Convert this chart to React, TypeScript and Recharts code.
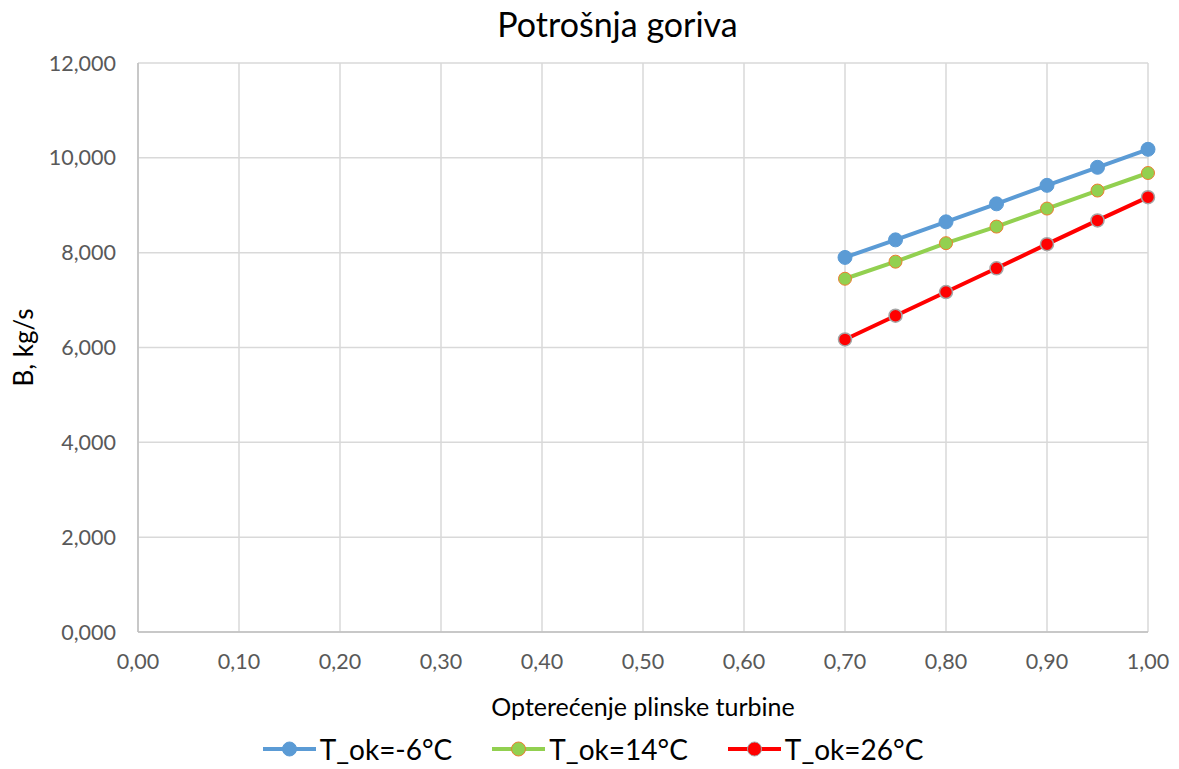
import { LineChart, Line, XAxis, YAxis, CartesianGrid, Legend } from 'recharts'

// opterećenje (x) and B, kg/s per ambient temperature
const loads = [0.7, 0.75, 0.8, 0.85, 0.9, 0.95, 1.0]
const bMinus6 = [7.9, 8.27, 8.65, 9.03, 9.42, 9.8, 10.18]
const b14 = [7.45, 7.81, 8.2, 8.55, 8.93, 9.31, 9.68]
const b26 = [6.17, 6.67, 7.17, 7.67, 8.18, 8.68, 9.17]

const xTicks = [0, 0.1, 0.2, 0.3, 0.4, 0.5, 0.6, 0.7, 0.8, 0.9, 1.0]
const yTicks = [0, 2, 4, 6, 8, 10, 12]

const seriesNames = ['T_ok=-6°C', 'T_ok=14°C', 'T_ok=26°C']

const data = loads.map((x, i) => ({
  x,
  s1: bMinus6[i],
  s2: b14[i],
  s3: b26[i],
}))

const FONT = 'Lato, "Open Sans", sans-serif'
const tickStyle = { fontSize: 21.5, fill: '#595959', fontFamily: FONT }

const legendItems = [
  { name: seriesNames[0], line: '#5B9BD5', fill: '#5B9BD5', stroke: '#5B9BD5' },
  { name: seriesNames[1], line: '#92D050', fill: '#92D050', stroke: '#ED7D31' },
  { name: seriesNames[2], line: '#FF0000', fill: '#FF0000', stroke: '#A5A5A5' },
]

function LegendContent() {
  return (
    <div style={{ display: 'flex', justifyContent: 'center', alignItems: 'center', gap: 40, paddingLeft: 38, fontFamily: FONT, fontSize: 28, color: '#000', lineHeight: '32px' }}>
      {legendItems.map((it) => (
        <div key={it.name} style={{ display: 'flex', alignItems: 'center' }}>
          <svg width={53} height={20} style={{ marginRight: 4 }}>
            <line x1={0} y1={10} x2={53} y2={10} stroke={it.line} strokeWidth={4} />
            <circle cx={26.5} cy={10} r={7} fill={it.fill} stroke={it.stroke} strokeWidth={1} />
          </svg>
          <span>{it.name}</span>
        </div>
      ))}
    </div>
  )
}

export default function App() {
  return (
    <div style={{ position: 'absolute', left: 0, top: 0, width: 1179, height: 769, background: '#fff' }}>
      <div style={{ position: 'absolute', top: 3, left: 28, width: 1179, textAlign: 'center', fontFamily: FONT, fontSize: 34, color: '#000', lineHeight: 'normal' }}>
        Potrošnja goriva
      </div>
      <LineChart width={1179} height={769} data={data} margin={{ top: 63, right: 31, left: 0, bottom: 0 }}>
        <CartesianGrid stroke="#D9D9D9" strokeWidth={1.5} />
        <XAxis
          dataKey="x"
          type="number"
          domain={[0, 1]}
          ticks={xTicks}
          tickFormatter={(v: number) => v.toFixed(2).replace('.', ',')}
          tick={tickStyle}
          tickLine={false}
          tickSize={0}
          tickMargin={22}
          stroke="#BFBFBF"
          strokeWidth={1.5}
          height={101}
          label={{ value: 'Opterećenje plinske turbine', position: 'insideTop', offset: 66, style: { fontSize: 25, fill: '#000', fontFamily: FONT } }}
        />
        <YAxis
          type="number"
          domain={[0, 12]}
          ticks={yTicks}
          tickFormatter={(v: number) => v.toFixed(3).replace('.', ',')}
          tick={tickStyle}
          tickLine={false}
          tickSize={0}
          tickMargin={22}
          stroke="#BFBFBF"
          strokeWidth={1.5}
          width={138}
          label={{ value: 'B, kg/s', angle: -90, position: 'insideLeft', offset: 24, style: { fontSize: 26, fill: '#000', fontFamily: FONT, textAnchor: 'middle' } }}
        />
        <Legend verticalAlign="bottom" height={36} content={<LegendContent />} />
        <Line
          dataKey="s1"
          name={seriesNames[0]}
          stroke="#5B9BD5"
          strokeWidth={4}
          dot={{ r: 7, fill: '#5B9BD5', stroke: '#5B9BD5', strokeWidth: 1 }}
          isAnimationActive={false}
        />
        <Line
          dataKey="s2"
          name={seriesNames[1]}
          stroke="#92D050"
          strokeWidth={4}
          dot={{ r: 6.5, fill: '#92D050', stroke: '#ED7D31', strokeWidth: 1 }}
          isAnimationActive={false}
        />
        <Line
          dataKey="s3"
          name={seriesNames[2]}
          stroke="#FF0000"
          strokeWidth={4}
          dot={{ r: 6.5, fill: '#FF0000', stroke: '#A5A5A5', strokeWidth: 1.5 }}
          isAnimationActive={false}
        />
      </LineChart>
    </div>
  )
}
